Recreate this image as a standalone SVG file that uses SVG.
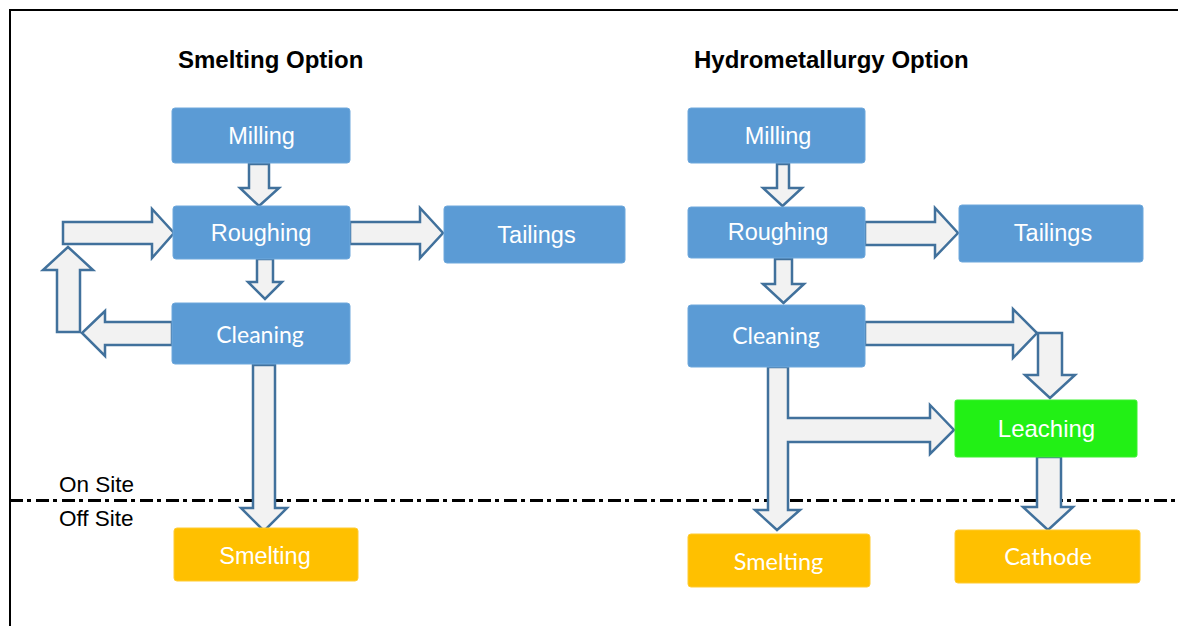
<svg xmlns="http://www.w3.org/2000/svg" width="1178" height="626" viewBox="0 0 1178 626">
<style>
.blue{fill:#5B9BD5;stroke:#6FA8DC;stroke-width:1}
.orange{fill:#FFC000;stroke:#FFCB33;stroke-width:1}
.green{fill:#22F015;stroke:#3CF030;stroke-width:1}
.arr{fill:#F2F2F2;stroke:#41719C;stroke-width:2.5;stroke-linejoin:miter}
.a{font-family:"Liberation Sans",Arial,sans-serif;font-size:23.5px;fill:#FFFFFF;text-anchor:middle}
.c{font-family:Lato,"Liberation Sans",sans-serif;font-size:23px;fill:#FFFFFF;text-anchor:middle}
.title{font-family:"Liberation Sans",Arial,sans-serif;font-size:24px;font-weight:bold;fill:#000000}
.site{font-family:"Liberation Sans",Arial,sans-serif;font-size:22.5px;fill:#000000}
</style>
<rect width="1178" height="626" fill="#FFFFFF"/>
<g id="frame">
<line x1="9" y1="10" x2="1178" y2="10" stroke="#000" stroke-width="2"/>
<line x1="10" y1="9" x2="10" y2="626" stroke="#000" stroke-width="2"/>
</g>
<g id="titles">
<text class="title" x="178" y="68">Smelting Option</text>
<text class="title" x="694" y="68">Hydrometallurgy Option</text>
</g>
<g id="site-line">
<line x1="10" y1="500.5" x2="1178" y2="500.5" stroke="#000" stroke-width="3" stroke-dasharray="13 4 4 5"/>
<text class="site" x="59" y="492">On Site</text>
<text class="site" x="59" y="526">Off Site</text>
</g>
<g id="connectors">
<polygon class="arr" points="249,164 269,164 269,188 279,188 259,206 240,188 249,188"/>
<polygon class="arr" points="257,259 273,259 273,282 282,282 265,299 248,282 257,282"/>
<polygon class="arr" points="350,222 420,222 420,208 443,233 420,258 420,244 350,244"/>
<polygon class="arr" points="172,322 105,322 105,311 82,333 105,356 105,345 172,345"/>
<polygon class="arr" points="57,332 80,332 80,270 93,270 68,247 43,270 57,270"/>
<polygon class="arr" points="63,244 152,244 152,258 174,233 152,209 152,222 63,222"/>
<polygon class="arr" points="253,365 275,365 275,508 287,508 264,531 241,508 253,508"/>
<polygon class="arr" points="777,164 789,164 789,188 802,188 782.5,206 763,188 777,188"/>
<polygon class="arr" points="775,259 792,259 792,284 804,284 783.5,303 763,284 775,284"/>
<polygon class="arr" points="865,222 935,222 935,208 958,233 935,257 935,245 865,245"/>
<polygon class="arr" points="865,322 1013,322 1013,309 1037,333 1013,358 1013,345 865,345"/>
<polygon class="arr" points="1038,333 1062,333 1062,375 1075,375 1050,398 1025,375 1038,375"/>
<polygon class="arr" points="768,367 788,367 788,418 930,418 930,405 954,430 930,454 930,442 788,442 788,510 800,510 777,530 755,510 768,510"/>
<polygon class="arr" points="1037,457 1061,457 1061,507 1073,507 1048,530 1023,507 1037,507"/>
</g>
<g id="s-milling"><rect class="blue" x="172" y="108" width="178" height="55" rx="3"/><text class="a" x="261.5" y="144">Milling</text></g>
<g id="s-roughing"><rect class="blue" x="173" y="206" width="177" height="53" rx="3"/><text class="a" x="261" y="241">Roughing</text></g>
<g id="s-tailings"><rect class="blue" x="444" y="206" width="181" height="57" rx="3"/><text class="a" x="536.5" y="243">Tailings</text></g>
<g id="s-cleaning"><rect class="blue" x="172" y="303" width="178" height="61" rx="3"/><text class="c" x="260" y="343">Cleaning</text></g>
<g id="s-smelting"><rect class="orange" x="174" y="528" width="184" height="53" rx="3"/><text class="a" x="265" y="564">Smelting</text></g>
<g id="h-milling"><rect class="blue" x="688" y="108" width="177" height="55" rx="3"/><text class="a" x="778" y="144">Milling</text></g>
<g id="h-roughing"><rect class="blue" x="688" y="207" width="177" height="51" rx="3"/><text class="a" x="778" y="240">Roughing</text></g>
<g id="h-tailings"><rect class="blue" x="959" y="205" width="184" height="57" rx="3"/><text class="a" x="1053" y="241">Tailings</text></g>
<g id="h-cleaning"><rect class="blue" x="688" y="305" width="177" height="62" rx="3"/><text class="c" x="776" y="344">Cleaning</text></g>
<g id="h-leaching"><rect class="green" x="955" y="400" width="182" height="57" rx="2"/><text class="a" x="1046.5" y="437" style="font-size:24px">Leaching</text></g>
<g id="h-smelting"><rect class="orange" x="688" y="534" width="182" height="53" rx="3"/><text class="c" x="778.5" y="570" style="font-size:23.5px">Smelting</text></g>
<g id="h-cathode"><rect class="orange" x="955" y="530" width="185" height="53" rx="3"/><text class="c" x="1048" y="565" style="font-size:23.5px">Cathode</text></g>
</svg>
